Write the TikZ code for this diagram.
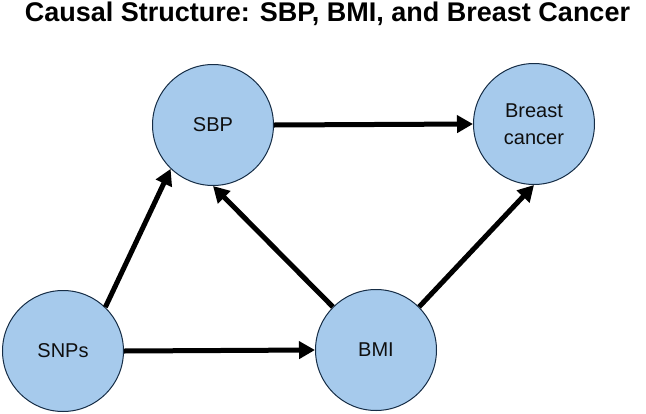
\documentclass[tikz,border=0pt]{standalone}
\usepackage{fontspec}
\setmainfont{Liberation Sans}
\usepackage{tikz}
\usetikzlibrary{
  arrows.meta,
  positioning
}
\definecolor{nodeblue}{RGB}{166,202,236}
\definecolor{edgenavy}{RGB}{22,45,70}
\definecolor{inkblack}{RGB}{15,15,15}

\begin{document}
\begin{tikzpicture}[x=1pt, y=-1pt,
    var/.style={circle, draw=edgenavy, line width=1pt, fill=nodeblue, text=inkblack,
      minimum size=121pt, inner sep=0pt, align=center,
      font=\fontsize{20}{27}\selectfont},
    causal/.style={line width=5pt, -{Triangle[length=16pt, width=17pt]}, draw=black}]
    \useasboundingbox (0,0) rectangle (646,413);

    % Title
    \node[anchor=base, font=\fontsize{27}{32}\selectfont\bfseries] (title) at (327.5,21)
      {Causal Structure: SBP, BMI, and Breast Cancer};

    % Variables
    \node[var] (sbp) at (213,125) {SBP};
    \node[var] (bc) at (534,124) {Breast\\cancer};
    \node[var] (snps) at (63,351) {SNPs};
    \node[var] (bmi) at (376,350) {BMI};

    % Causal paths
    \draw[causal] (sbp.east) -- (bc.west);
    \draw[causal] (snps.east) -- (bmi.west);
    \draw[causal] (snps.46) -- (sbp.226);
    \draw[causal] (bmi.135) -- (sbp.south);
    \draw[causal] (bmi.45) -- (bc.south);
\end{tikzpicture}
\end{document}
